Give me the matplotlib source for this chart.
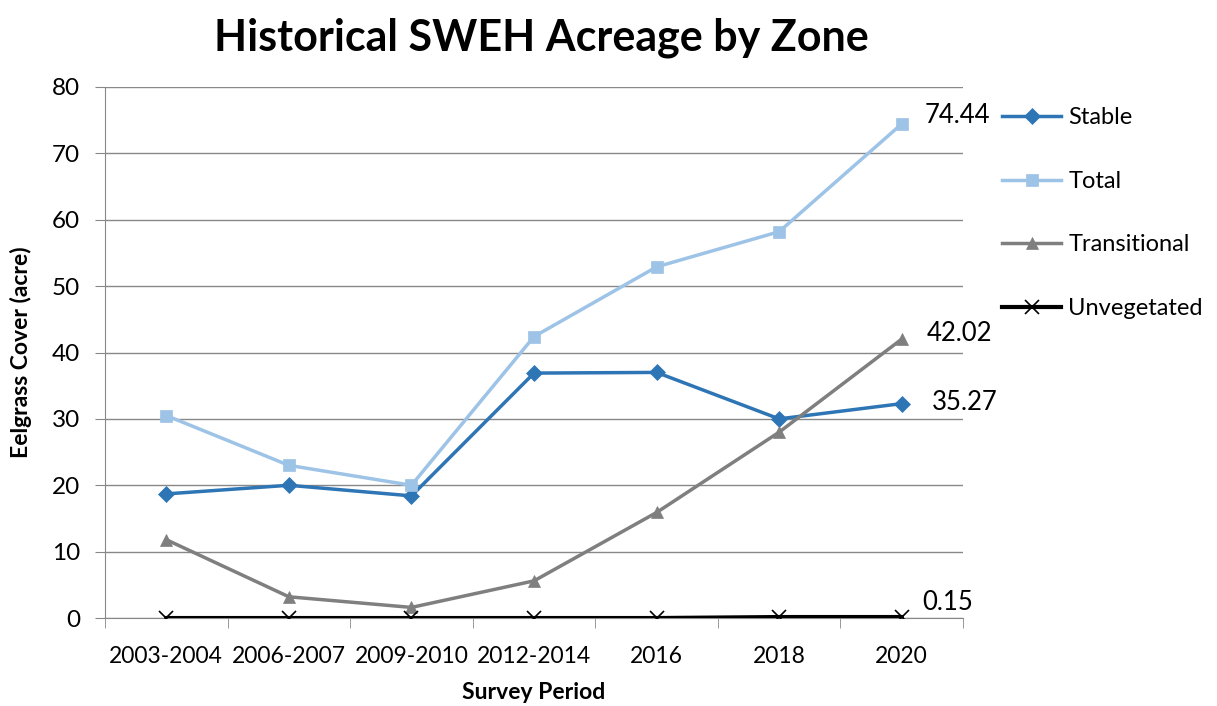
import numpy as np
import matplotlib.pyplot as plt

periods = ['2003-2004', '2006-2007', '2009-2010', '2012-2014', '2016', '2018', '2020']
stable = [18.7, 20.0, 18.4, 36.9, 37.0, 30.0, 32.3]
total = [30.5, 23.0, 20.0, 42.4, 52.9, 58.2, 74.44]
transitional = [11.8, 3.2, 1.6, 5.6, 15.9, 28.0, 42.02]
unvegetated = [0.0, 0.0, 0.0, 0.0, 0.0, 0.15, 0.15]
end_labels = {'Total': '74.44', 'Transitional': '42.02', 'Stable': '35.27', 'Unvegetated': '0.15'}

plt.rcParams['font.family'] = ['Lato', 'DejaVu Sans']

fig = plt.figure(figsize=(12.17, 7.06), dpi=100)
ax = fig.add_axes([0.0863, 0.1246, 0.705, 0.7522])

x = np.arange(len(periods))
series = [
    ('Stable', stable, '#2e75b6', 'D', 8, 2.5),
    ('Total', total, '#9dc3e6', 's', 9, 2.5),
    ('Transitional', transitional, '#7f7f7f', '^', 9, 2.5),
    ('Unvegetated', unvegetated, '#000000', 'x', 10, 3),
]
for name, vals, col, mk, ms, lw in series:
    ax.plot(x, vals, color=col, marker=mk, markersize=ms, lw=lw, label=name,
            markeredgewidth=1.2 if mk == 'x' else 0.5, zorder=3)

# data labels on the last survey period
offsets = {'Total': (23, 8), 'Transitional': (25, 6), 'Stable': (30, 1), 'Unvegetated': (21, 15)}
lookup = {s[0]: s[1] for s in series}
for name, txt in end_labels.items():
    ax.annotate(txt, (x[-1], lookup[name][-1]), xytext=offsets[name],
                textcoords='offset pixels', fontsize=18.5, va='center', ha='left')

ax.set_xlim(-0.5, len(periods) - 0.5)
ax.set_ylim(0, 80)
ax.set_yticks(np.arange(0, 81, 10))
ax.set_xticks(x)
ax.set_xticklabels(periods)
ax.set_xticks(np.arange(-0.5, len(periods)), minor=True)
ax.tick_params(axis='x', which='major', length=0, pad=20, labelsize=16.5)
ax.tick_params(axis='x', which='minor', length=7, color='#888888')
ax.tick_params(axis='y', length=7, color='#888888', labelsize=17.5, pad=11)
ax.grid(axis='y', color='#888888', lw=1)
ax.set_axisbelow(True)
for s in ['top', 'right']:
    ax.spines[s].set_visible(False)
for s in ['left', 'bottom']:
    ax.spines[s].set_color('#888888')

ax.set_xlabel('Survey Period', fontsize=16.5, fontweight='bold', labelpad=11)
ax.set_ylabel('Eelgrass Cover (acre)', fontsize=16.5, fontweight='bold', labelpad=14)
fig.suptitle('Historical SWEH Acreage by Zone', fontsize=31, fontweight='bold',
             x=0.445, y=0.975)

fig.legend(loc='upper left', bbox_to_anchor=(0.806, 0.878), frameon=False,
           fontsize=17, labelspacing=1.8, handlelength=2.5, handletextpad=0.3)

fig.savefig('out.png', dpi=100)
